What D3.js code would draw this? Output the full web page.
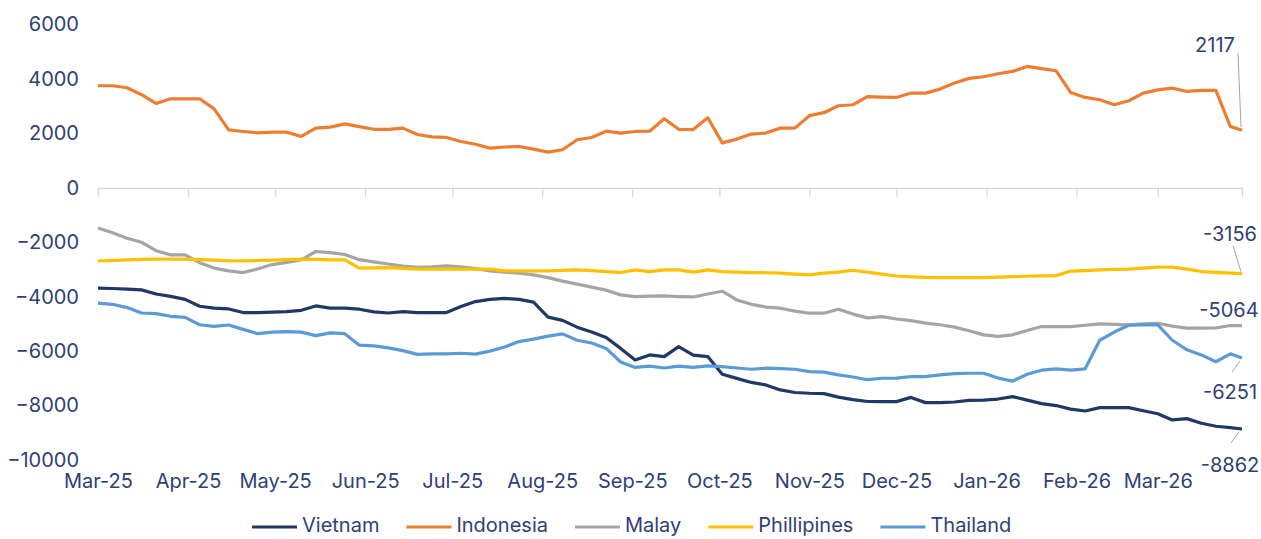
<!DOCTYPE html>
<html>
<head>
<meta charset="utf-8">
<script src="https://cdn.jsdelivr.net/npm/d3@7"></script>
<style>
  html, body { margin: 0; padding: 0; background: #fff; }
  svg { display: block; font-family: Inter, "Noto Sans", sans-serif; }
</style>
</head>
<body>
<div class="container"></div>
<script>
const width = 1261;
const height = 539;

// every 5 days from Mar 1 2025, last point Mar 30 2026
const dates = [
    '2025-03-01','2025-03-06','2025-03-11','2025-03-16','2025-03-21','2025-03-26','2025-03-31','2025-04-05','2025-04-10','2025-04-15',
    '2025-04-20','2025-04-25','2025-04-30','2025-05-05','2025-05-10','2025-05-15','2025-05-20','2025-05-25','2025-05-30','2025-06-04',
    '2025-06-09','2025-06-14','2025-06-19','2025-06-24','2025-06-29','2025-07-04','2025-07-09','2025-07-14','2025-07-19','2025-07-24',
    '2025-07-29','2025-08-03','2025-08-08','2025-08-13','2025-08-18','2025-08-23','2025-08-28','2025-09-02','2025-09-07','2025-09-12',
    '2025-09-17','2025-09-22','2025-09-27','2025-10-02','2025-10-07','2025-10-12','2025-10-17','2025-10-22','2025-10-27','2025-11-01',
    '2025-11-06','2025-11-11','2025-11-16','2025-11-21','2025-11-26','2025-12-01','2025-12-06','2025-12-11','2025-12-16','2025-12-21',
    '2025-12-26','2025-12-31','2026-01-05','2026-01-10','2026-01-15','2026-01-20','2026-01-25','2026-01-30','2026-02-04','2026-02-09',
    '2026-02-14','2026-02-19','2026-02-24','2026-03-01','2026-03-06','2026-03-11','2026-03-16','2026-03-21','2026-03-26','2026-03-30'
];

const vietnam = [
    -3689,-3700,-3720,-3750,-3900,-3990,-4100,-4350,-4420,-4450,
    -4583,-4583,-4570,-4550,-4500,-4340,-4423,-4423,-4460,-4560,
    -4600,-4550,-4583,-4583,-4583,-4360,-4180,-4100,-4060,-4100,
    -4200,-4750,-4870,-5120,-5300,-5500,-5900,-6323,-6139,-6200,
    -5833,-6150,-6200,-6850,-7000,-7150,-7242,-7426,-7520,-7548,
    -7560,-7690,-7780,-7850,-7855,-7855,-7700,-7892,-7892,-7870,
    -7810,-7800,-7760,-7671,-7800,-7930,-8000,-8130,-8200,-8075,
    -8075,-8075,-8190,-8300,-8529,-8480,-8650,-8760,-8811,-8862
];

const indonesia = [
    3750,3750,3676,3420,3100,3270,3270,3270,2900,2130,
    2070,2020,2047,2047,1886,2190,2230,2350,2250,2150,
    2150,2193,1960,1870,1850,1700,1600,1458,1500,1519,
    1420,1311,1400,1765,1850,2080,2010,2070,2080,2536,
    2150,2140,2573,1650,1790,1973,2010,2193,2193,2650,
    2760,3014,3051,3350,3330,3321,3480,3480,3627,3848,
    4020,4080,4190,4276,4460,4380,4300,3500,3320,3235,
    3051,3200,3480,3600,3664,3540,3578,3578,2250,2117
];

const malay = [
    -1480,-1650,-1850,-2000,-2310,-2463,-2463,-2750,-2950,-3050,
    -3113,-2980,-2820,-2740,-2650,-2340,-2380,-2450,-2640,-2720,
    -2800,-2880,-2920,-2900,-2867,-2900,-2970,-3050,-3100,-3137,
    -3200,-3300,-3430,-3540,-3650,-3760,-3933,-3995,-3980,-3970,
    -3995,-4010,-3900,-3800,-4120,-4280,-4380,-4423,-4530,-4607,
    -4607,-4460,-4640,-4780,-4730,-4820,-4880,-4970,-5030,-5120,
    -5250,-5404,-5460,-5400,-5240,-5097,-5097,-5097,-5050,-4999,
    -5020,-5036,-5000,-4975,-5080,-5158,-5158,-5150,-5060,-5064
];

const phillipines = [
    -2684,-2670,-2650,-2630,-2622,-2622,-2622,-2640,-2660,-2684,
    -2684,-2670,-2660,-2640,-2622,-2630,-2647,-2647,-2950,-2940,
    -2930,-2960,-2990,-2990,-2990,-2990,-2990,-2990,-3051,-3051,
    -3051,-3051,-3030,-3014,-3040,-3076,-3113,-3014,-3076,-3014,
    -3014,-3100,-3014,-3076,-3100,-3113,-3120,-3137,-3170,-3200,
    -3137,-3100,-3030,-3100,-3174,-3240,-3270,-3290,-3297,-3297,
    -3297,-3297,-3280,-3260,-3250,-3235,-3223,-3060,-3039,-3014,
    -3000,-2990,-2950,-2916,-2916,-2990,-3076,-3110,-3137,-3156
];

const thailand = [
    -4240,-4280,-4400,-4600,-4620,-4720,-4760,-5030,-5090,-5040,
    -5200,-5360,-5300,-5282,-5300,-5430,-5330,-5360,-5780,-5810,
    -5880,-5980,-6120,-6102,-6100,-6078,-6110,-6000,-5850,-5650,
    -5560,-5450,-5367,-5600,-5700,-5900,-6400,-6600,-6550,-6620,
    -6550,-6600,-6540,-6570,-6620,-6665,-6628,-6640,-6665,-6751,
    -6770,-6870,-6950,-7050,-6996,-6990,-6935,-6935,-6874,-6830,
    -6813,-6813,-6990,-7100,-6850,-6700,-6650,-6700,-6650,-5600,
    -5300,-5050,-5036,-5036,-5600,-5950,-6139,-6390,-6100,-6251
];

const seriesNames = ['Vietnam', 'Indonesia', 'Malay', 'Phillipines', 'Thailand'];
const seriesValues = [vietnam, indonesia, malay, phillipines, thailand];
const colors = ['#203864', '#ed7d31', '#a5a5a5', '#ffc000', '#5b9bd5'];

const yTicks = [6000, 4000, 2000, 0, -2000, -4000, -6000, -8000, -10000];

const textColor = '#2f4173';
const fontSize = '20px';
const parse = d3.timeParse('%Y-%m-%d');

function draw() {
    const svg = d3.select('.container')
        .append('svg')
        .attr('width', width)
        .attr('height', height);

    const x = d3.scaleTime()
        .domain([parse('2025-03-01'), parse('2026-03-30')])
        .range([98, 1242]);
    const y = d3.scaleLinear().domain([-10000, 6000]).range([460, 24.5]);

    // y labels
    const yAxis = svg.append('g')
        .attr('transform', 'translate(80,0)')
        .call(d3.axisLeft(y).tickValues(yTicks).tickSize(0).tickPadding(1).tickFormat(d3.format('d')));
    yAxis.select('.domain').remove();
    yAxis.selectAll('text')
        .attr('fill', textColor)
        .style('font-size', fontSize)
        .style('font-family', 'Inter, sans-serif');

    // zero line with month ticks
    const months = d3.timeMonth.range(parse('2025-03-01'), parse('2026-03-31'));
    const zeroAxis = svg.append('g')
        .attr('transform', `translate(0,${y(0)})`)
        .call(d3.axisBottom(x).tickValues(months).tickSize(9).tickFormat(''));
    zeroAxis.select('.domain').attr('stroke', '#d9d9d9').attr('stroke-width', 1.3);
    zeroAxis.selectAll('.tick line').attr('stroke', '#d9d9d9').attr('stroke-width', 1.3);

    // month labels at the bottom
    const xAxis = svg.append('g')
        .attr('transform', 'translate(0,471)')
        .call(d3.axisBottom(x).tickValues(months).tickSize(0).tickFormat(d3.timeFormat('%b-%y')));
    xAxis.select('.domain').remove();
    xAxis.selectAll('text')
        .attr('fill', textColor)
        .style('font-size', fontSize)
        .style('font-family', 'Inter, sans-serif');

    const line = d3.line()
        .x((d, i) => x(parse(dates[i])))
        .y(d => y(d));

    svg.selectAll('.series')
        .data(seriesValues)
        .enter()
        .append('path')
        .attr('class', 'series')
        .attr('d', d => line(d))
        .attr('fill', 'none')
        .attr('stroke', (d, i) => colors[i])
        .attr('stroke-width', 3.2)
        .attr('stroke-linejoin', 'round');

    // end-of-line labels: offsets from the last point
    const endLabels = [
        { s: 1, tx: -27, ty: -84, lead: [[-4, -77], [-1, -3]] },
        { s: 3, tx: -12, ty: -38, lead: [[-9, -28], [-1, -2]] },
        { s: 2, tx: -13, ty: -14, lead: null },
        { s: 4, tx: -12, ty: 36, lead: [[-2, 3], [-10, 14]] },
        { s: 0, tx: -12, ty: 38, lead: [[-3, 3], [-11, 14]] },
    ];
    const last = dates.length - 1;
    endLabels.forEach(l => {
        const v = seriesValues[l.s][last];
        const px = x(parse(dates[last]));
        const py = y(v);
        if (l.lead) {
            svg.append('line')
                .attr('x1', px + l.lead[0][0]).attr('y1', py + l.lead[0][1])
                .attr('x2', px + l.lead[1][0]).attr('y2', py + l.lead[1][1])
                .attr('stroke', '#a6a6a6')
                .attr('stroke-width', 1);
        }
        svg.append('text')
            .attr('x', px + l.tx)
            .attr('y', py + l.ty)
            .attr('text-anchor', 'middle')
            .attr('dominant-baseline', 'middle')
            .attr('fill', textColor)
            .style('font-size', fontSize)
            .text(v);
    });

    // legend
    const legend = svg.append('g').attr('transform', 'translate(252,527)');
    let lx = 0;
    seriesNames.forEach((name, i) => {
        const g = legend.append('g').attr('transform', `translate(${lx},0)`);
        g.append('line')
            .attr('x1', 0).attr('x2', 45)
            .attr('stroke', colors[i])
            .attr('stroke-width', 3.2);
        const t = g.append('text')
            .attr('x', 50)
            .attr('dominant-baseline', 'middle')
            .attr('fill', textColor)
            .style('font-size', fontSize)
            .text(name);
        lx += 50 + t.node().getComputedTextLength() + 27;
    });
}

draw();
</script>
</body>
</html>
